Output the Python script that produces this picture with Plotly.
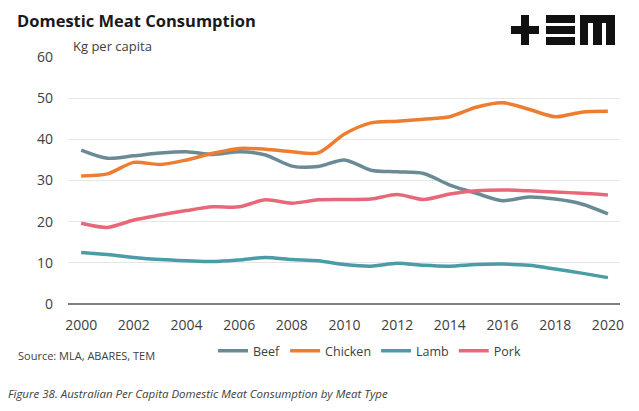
import plotly.graph_objects as go

years = list(range(2000, 2021))
beef = [37.4, 35.4, 36.0, 36.7, 37.0, 36.3, 37.0, 36.2, 33.5, 33.4, 35.0, 32.5, 32.1, 31.7, 28.9, 26.9, 25.1, 26.0, 25.5, 24.3, 21.9]
chicken = [31.1, 31.6, 34.4, 33.9, 35.0, 36.6, 37.8, 37.6, 37.0, 36.7, 41.3, 44.0, 44.4, 44.9, 45.5, 47.8, 48.9, 47.3, 45.5, 46.6, 46.8]
lamb = [12.5, 12.0, 11.3, 10.8, 10.5, 10.3, 10.7, 11.3, 10.8, 10.5, 9.6, 9.2, 9.9, 9.4, 9.2, 9.6, 9.7, 9.4, 8.5, 7.5, 6.4]
pork = [19.6, 18.6, 20.4, 21.6, 22.7, 23.6, 23.6, 25.3, 24.5, 25.3, 25.4, 25.5, 26.6, 25.4, 26.7, 27.5, 27.7, 27.5, 27.2, 26.9, 26.5]

series_names = ["Beef", "Chicken", "Lamb", "Pork"]
series_values = [beef, chicken, lamb, pork]
colors = ["#6A8A95", "#ED7D31", "#4A9DA6", "#E8687A"]

x_ticks = list(range(2000, 2021, 2))
y_ticks = [0, 10, 20, 30, 40, 50, 60]

fig = go.Figure()
for name, vals, c in zip(series_names, series_values, colors):
    fig.add_trace(go.Scatter(x=years, y=vals, name=name, mode="lines",
                             line=dict(color=c, width=3.5, shape="spline", smoothing=0.8)))

font = "Open Sans"
fig.update_layout(
    width=639, height=411,
    margin=dict(l=68, r=19, t=57, b=107),
    paper_bgcolor="white", plot_bgcolor="white",
    font=dict(family=font, color="#404040", size=14),
    showlegend=True,
    legend=dict(orientation="h", x=(526 - 68) / 552, xanchor="right", y=-0.13, yanchor="top",
                font=dict(size=12.5, color="#404040"), itemwidth=30, tracegroupgap=0,
                bgcolor="rgba(0,0,0,0)"),
    xaxis=dict(range=[1999.5, 2020.46], tickmode="array", tickvals=x_ticks,
               showgrid=False, zeroline=False, showline=False, ticks="",
               ticklabelstandoff=11, tickfont=dict(size=14, color="#404040")),
    yaxis=dict(range=[0, 60], tickmode="array", tickvals=y_ticks,
               showgrid=True, gridcolor="#E6E6E6", gridwidth=1,
               zeroline=True, zerolinecolor="#7F7F7F", zerolinewidth=2,
               showline=False, ticks="", ticklabelstandoff=14,
               tickfont=dict(size=14, color="#404040")),
)

fig.add_annotation(text="<b>Domestic Meat Consumption</b>", xref="paper", yref="paper",
                   x=0, y=1, xshift=-53, yshift=37, xanchor="left", yanchor="middle",
                   showarrow=False, font=dict(family=font, size=16.5, color="#1a1a1a"))
fig.add_annotation(text="Kg per capita", xref="paper", yref="paper",
                   x=0, y=1, xshift=3, yshift=11, xanchor="left", yanchor="middle",
                   showarrow=False, font=dict(family=font, size=13, color="#404040"))
fig.add_annotation(text="Source: MLA, ABARES, TEM", xref="paper", yref="paper",
                   x=0, y=0, xshift=-52, yshift=-51, xanchor="left", yanchor="middle",
                   showarrow=False, font=dict(family=font, size=11, color="#404040"))
fig.add_annotation(text="<i>Figure 38. Australian Per Capita Domestic Meat Consumption by Meat Type</i>",
                   xref="paper", yref="paper",
                   x=0, y=0, xshift=-62, yshift=-89, xanchor="left", yanchor="middle",
                   showarrow=False, font=dict(family=font, size=11.5, color="#404040"))

# logo "+EM" drawn as pixel rectangles
logo_rects = [
    (511, 26, 539, 34), (521, 15, 529, 45),
    (546, 15, 575, 23), (546, 26, 575, 34), (546, 37, 575, 45),
    (580, 15, 615, 23), (580, 15, 588, 45), (593, 15, 602, 45), (606, 15, 615, 45),
]
for x0, y0, x1, y1 in logo_rects:
    fig.add_shape(type="rect", xref="paper", yref="paper",
                  x0=(x0 - 68) / 552, x1=(x1 - 68) / 552,
                  y0=(304 - y0) / 247, y1=(304 - y1) / 247,
                  fillcolor="#111111", line=dict(width=0), layer="above")

fig.write_html("out.html", config={"displayModeBar": False},
               post_script="document.body.style.margin='0';")
